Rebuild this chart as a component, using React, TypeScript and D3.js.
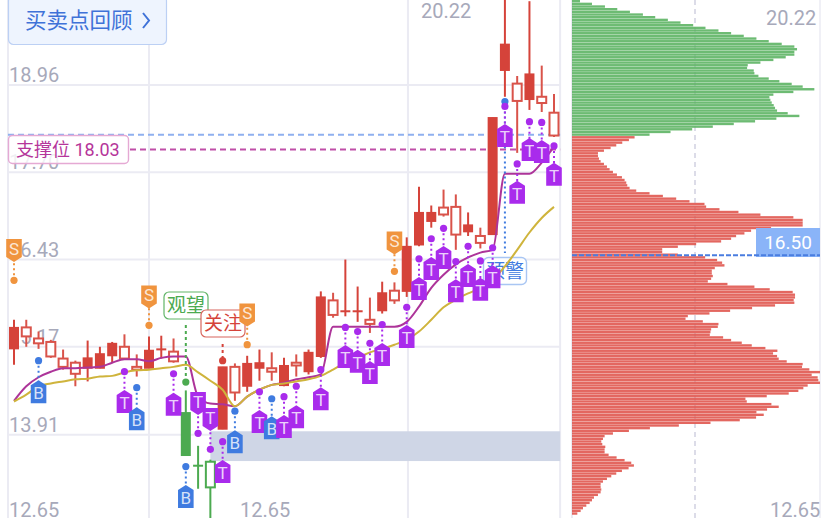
import React from "react";
import * as d3 from "d3";

const W = 828, H = 518;

const highs = [15.57,15.57,15.40,15.28,15.14,14.98,15.27,15.18,15.25,15.36,15.07,15.33,15.34,15.30,14.55,13.75,13.55,14.89,14.94,15.05,15.14,15.10,15.02,15.07,15.14,15.98,15.96,16.44,16.05,15.89,16.12,16.11,16.76,17.49,17.22,17.45,17.38,17.12,16.90,18.49,20.30,19.09,20.17,19.24,18.83];
const lows = [14.92,15.18,15.15,15.02,14.85,14.61,14.68,14.87,14.95,15.00,14.75,14.87,15.01,14.95,13.61,13.13,12.60,13.99,14.40,14.53,14.69,14.69,14.61,14.75,14.78,15.02,15.60,15.62,15.54,15.38,15.66,15.80,15.90,16.63,16.90,17.06,16.58,16.78,16.60,16.80,18.79,17.98,18.60,18.57,18.21];
const bodyTops = [15.46,15.46,15.30,15.25,15.01,14.95,15.02,15.08,15.23,15.18,14.89,15.13,15.15,15.11,14.23,13.47,13.52,14.89,14.89,14.94,14.95,14.87,14.91,14.95,15.10,15.90,15.85,15.70,15.70,15.57,15.96,15.99,16.63,17.12,17.12,17.19,17.20,16.94,16.78,18.49,19.55,18.98,19.12,18.79,18.56];
const bodyBottoms = [15.15,15.33,15.23,15.04,14.89,14.79,14.87,14.87,15.05,15.01,14.85,14.87,15.14,14.97,13.61,13.46,13.15,13.99,14.52,14.61,14.87,14.82,14.62,14.91,14.82,15.04,15.64,15.69,15.69,15.51,15.70,15.85,15.98,16.65,16.99,17.09,16.80,16.84,16.68,16.80,19.17,18.73,18.75,18.70,18.23];
const hollowIdx = [1,2,3,4,5,9,10,13,16,18,21,23,26,29,31,35,36,38,41,43,44];
const greenIdx = [14,15,16];

const purpleLine = [14.40,14.61,14.74,14.82,14.87,14.87,14.88,14.89,14.95,15.00,15.00,14.97,15.02,15.04,15.04,14.46,14.36,14.35,14.32,14.46,14.56,14.63,14.66,14.71,14.74,14.78,15.47,15.47,15.47,15.47,15.47,15.47,15.54,15.76,16.03,16.22,16.37,16.47,16.54,16.58,17.68,17.68,17.68,17.84,18.07];
const goldLine = [14.39,14.49,14.61,14.65,14.68,14.71,14.72,14.75,14.76,14.81,14.84,14.85,14.87,14.89,14.92,14.81,14.69,14.56,14.32,14.46,14.56,14.63,14.65,14.68,14.71,14.76,14.85,14.95,15.02,15.10,15.15,15.21,15.28,15.40,15.57,15.75,15.86,15.95,16.03,16.15,16.34,16.58,16.83,17.04,17.20];

// [kind, candle index, dot price, badge price]
const markers: [string, number, number, number][] = [
  ["S",0,16.14,16.57],["B",2,14.98,14.53],["T",9,14.82,14.39],["B",10,14.59,14.14],
  ["S",11,15.49,15.90],["T",13,14.79,14.35],["B",14,13.45,13.02],["D",15,13.93,14.36],
  ["D",16,13.70,14.13],["T",17,13.81,13.38],["B",18,14.25,13.81],["S",19,15.21,15.64],
  ["T",20,14.53,14.10],["B",21,14.43,14.01],["T",22,14.46,14.03],["T",23,14.61,14.17],
  ["T",25,14.85,14.43],["T",27,15.46,15.04],["T",28,15.40,14.97],["T",29,15.23,14.81],
  ["T",30,15.50,15.07],["S",31,16.27,16.68],["T",32,15.75,15.33],["T",33,16.45,16.02],
  ["T",34,16.74,16.31],["T",35,16.89,16.47],["T",36,16.41,15.99],["T",37,16.63,16.21],
  ["T",38,16.42,16.01],["T",39,16.61,16.19],["T",40,18.65,18.23],["T",41,17.82,17.41],
  ["T",42,18.43,18.03],["T",43,18.42,18.00],["T",44,18.08,17.67],
];

const leftTicks = [18.96, 17.70, 16.43, 15.17, 13.91];
const gridPrices = [18.96, 17.70, 16.44, 15.18, 13.91];
const gridXIdx = [-0.49, 11, 32.1, 44.5];

const supportPrice = 18.03;
const bluePrice = 18.24;
const lastPrice = 16.50;
const bandPrices = [13.96, 13.53];

const askVolume = [36,72,111,148,186,225,262,300,338,376,413,452,490,528,566,603,642,680,688,680,680,654,617,578,540,538,558,560,572,603,635,672,705,740,677,617,605,608,612,618,622,628,660,695,626,562,498,435,373,308,245];
const bidVolume = [200,183,163,145,128,108,90,90,93,98,108,117,125,135,147,162,170,175,178,185,205,245,285,325,365,410,415,455,512,578,677,705,705,705,610,550,530,505,490,460,385,330,283,283,330,412,
  448,463,470,441,432,432,435,430,420,479,560,606,675,682,682,678,680,622,553,487,425,360,353,405,452,450,430,428,426,466,490,522,552,593,629,616,628,633,657,705,703,725,757,732,750,752,757,720,
  707,692,663,597,533,537,611,633,598,566,588,565,516,428,333,246,183,135,110,105,100,103,112,110,110,122,146,170,190,198,182,162,145,130,117,105,98,98,100,98,90,78,72,65,55,45,38,28];

const C = {
  red: "#d5433a", redHollow: "#d9534a", green: "#4caa50", grid: "#ebebf3", axis: "#a7a9ba",
  purple: "#a92bec", blue: "#3f7be0", orange: "#f0943e", mline: "#ad3499", gold: "#cfb43c",
  pink: "#c04fa8",
};
const FONT = "Roboto, 'Noto Sans CJK SC', sans-serif";

const x = d3.scaleLinear().domain([0, 44]).range([14, 554]);
const y = d3.scaleLinear().domain([18.96, 12.65]).range([85, 522]);
const line = d3.line<number>().x((_, i) => x(i)).y((d) => y(d)).curve(d3.curveMonotoneX);

const allVol = [...askVolume, ...bidVolume];
const histY = d3.scaleBand<number>().domain(d3.range(allVol.length)).range([0, allVol.length * 2.667]).paddingInner(0.1);
const histX = d3.scaleLinear().domain([12, 757]).range([572, 820]);

function Badge({ kind, cx, cy, dy }: { kind: string; cx: number; cy: number; dy: number }) {
  const down = kind === "S" || kind === "D";
  const fill = kind === "S" ? C.orange : kind === "B" ? C.blue : C.purple;
  const w = 7.8, h = 11.5, tip = 5;
  const path = down
    ? `M${cx - w},${cy - h}H${cx + w}V${cy + h - tip}L${cx},${cy + h}L${cx - w},${cy + h - tip}Z`
    : `M${cx - w},${cy + h}H${cx + w}V${cy - h + tip}L${cx},${cy - h}L${cx - w},${cy - h + tip}Z`;
  const letter = kind === "D" ? "T" : kind;
  return (
    <g>
      <path d={path} fill={fill} />
      <text x={cx} y={cy + dy} textAnchor="middle" fontSize={17} fontFamily={FONT} fill="#fff" fillOpacity={0.8}>{letter}</text>
    </g>
  );
}

function Marker({ m }: { m: [string, number, number, number] }) {
  const [kind, idx, dotP, badgeP] = m;
  const cx = x(idx);
  const dotY = y(dotP), badgeY = y(badgeP);
  const col = kind === "S" ? C.orange : kind === "B" ? C.blue : C.purple;
  return (
    <g>
      <line x1={cx} x2={cx} y1={dotY} y2={badgeY} stroke={col} strokeWidth={2} strokeDasharray="2 3" />
      <circle cx={cx} cy={dotY} r={3.6} fill={col} />
      <Badge kind={kind} cx={cx} cy={badgeY} dy={kind === "S" || kind === "D" ? 4 : 7.5} />
    </g>
  );
}

function Candle({ i }: { i: number }) {
  const hollow = hollowIdx.includes(i);
  const green = greenIdx.includes(i);
  const col = green ? C.green : hollow ? C.redHollow : C.red;
  const cx = x(i);
  const top = y(bodyTops[i]), bot = y(bodyBottoms[i]);
  const w = 10;
  const wickTop = y(highs[i]), wickBot = y(lows[i]);
  return (
    <g>
      <line x1={cx} x2={cx} y1={wickTop} y2={wickBot} stroke={col} strokeWidth={2} />
      {hollow ? (
        <rect x={cx - w / 2 + 0.5} y={top} width={w - 1} height={bot - top} fill="#fff" stroke={col} strokeWidth={2} />
      ) : (
        <rect x={cx - w / 2} y={top - 0.5} width={w} height={Math.max(bot - top + 1, 2)} fill={col} />
      )}
    </g>
  );
}

export default function App() {
  const gridLeft = x(gridXIdx[0]);
  const gridRight = x(gridXIdx[3]);
  const axisText = { fontFamily: FONT, fontSize: 20, fill: C.axis };
  return (
    <svg width={W} height={H} viewBox={`0 0 ${W} ${H}`} style={{ position: "absolute", left: 0, top: 0, background: "#fff" }}>
      {/* grid */}
      {gridPrices.map((p) => (
        <line key={p} x1={gridLeft} x2={gridRight} y1={y(p)} y2={y(p)} stroke={C.grid} strokeWidth={2} />
      ))}
      {gridXIdx.map((g) => (
        <line key={g} x1={x(g)} x2={x(g)} y1={0} y2={H} stroke={C.grid} strokeWidth={2} />
      ))}
      {/* axis labels */}
      {leftTicks.map((t) => (
        <text key={t} x={9} y={y(t) - 3} {...axisText}>{t.toFixed(2)}</text>
      ))}
      <text x={9} y={517} {...axisText}>12.65</text>
      <text x={421} y={18} {...axisText}>20.22</text>
      <text x={240} y={517} {...axisText}>12.65</text>

      {/* shaded band */}
      <rect x={x(16)} width={gridRight - x(16)} y={y(bandPrices[0])} height={y(bandPrices[1]) - y(bandPrices[0])} fill="#cfd6e6" />

      {/* reference lines */}
      <line x1={gridLeft} x2={gridRight} y1={y(bluePrice)} y2={y(bluePrice)} stroke="#8fb0ef" strokeWidth={2} strokeDasharray="6 4" />
      <line x1={130} x2={gridRight} y1={y(supportPrice)} y2={y(supportPrice)} stroke={C.pink} strokeWidth={2} strokeDasharray="6 4" />
      <rect x={8.5} y={135.5} width={120} height={28} rx={4} fill="#fff" fillOpacity={0.82} stroke="#e5a9d4" strokeWidth={1.4} />
      <text x={16} y={156} fontFamily={FONT} fontSize={18} fill="#b5359a">支撑位 18.03</text>

      {/* 预警 label */}
      <rect x={483.5} y={257.5} width={43} height={27} rx={5} fill="#fff" fillOpacity={0.9} stroke="#a9c6f3" strokeWidth={1.4} />
      <text x={505} y={278} textAnchor="middle" fontFamily={FONT} fontSize={19} fill={C.blue}>预警</text>

      {/* candles */}
      {highs.map((_, i) => <Candle key={i} i={i} />)}

      {/* lines */}
      <path d={line(purpleLine) ?? ""} fill="none" stroke={C.mline} strokeWidth={2} />
      <path d={line(goldLine) ?? ""} fill="none" stroke={C.gold} strokeWidth={2} />

      {/* 观望 / 关注 */}
      <line x1={x(14)} x2={x(14)} y1={325} y2={y(14.67)} stroke={C.green} strokeWidth={2} strokeDasharray="3 3" />
      <circle cx={x(14)} cy={y(14.67)} r={3.6} fill={C.green} />
      <rect x={164} y={292} width={44} height={27} rx={5} fill="#fff" stroke="#62b568" strokeWidth={1.2} />
      <text x={186} y={312} textAnchor="middle" fontFamily={FONT} fontSize={19} fill={C.green}>观望</text>
      <line x1={x(17)} x2={x(17)} y1={344} y2={y(14.98)} stroke={C.red} strokeWidth={2} strokeDasharray="3 3" />
      <circle cx={x(17)} cy={y(14.98)} r={3.6} fill={C.red} />
      <rect x={201} y={310} width={44} height={27} rx={5} fill="#fff" stroke="#d8655c" strokeWidth={1.2} />
      <text x={223} y={330} textAnchor="middle" fontFamily={FONT} fontSize={19} fill={C.red}>关注</text>

      {/* blue alert dot + dotted drop */}
      <line x1={x(40)} x2={x(40)} y1={y(18.72)} y2={253} stroke={C.blue} strokeWidth={2} strokeDasharray="2 3" />
      <circle cx={x(40)} cy={y(18.72)} r={3.6} fill={C.blue} />

      {/* markers */}
      {markers.map((m, i) => <Marker key={i} m={m} />)}

      {/* profile panel */}
      <line x1={572} x2={572} y1={0} y2={H} stroke={C.grid} strokeWidth={2} />
      <line x1={820} x2={820} y1={0} y2={H} stroke={C.grid} strokeWidth={1.5} />
      <line x1={695} x2={695} y1={0} y2={H} stroke="#dcdce8" strokeWidth={2} strokeDasharray="5 4" />
      {allVol.map((v, i) => (
        <rect key={i} x={572} y={histY(i)} width={histX(v) - 572} height={histY.bandwidth()}
          fill={i < askVolume.length ? "#5db464" : "#e0574f"} fillOpacity={0.9} />
      ))}
      <text x={766} y={25} {...axisText}>20.22</text>
      <text x={770} y={517} {...axisText}>12.65</text>
      <rect x={756} y={228} width={64} height={29} fill="#8ab4f8" />
      <text x={788} y={249} textAnchor="middle" fontFamily={FONT} fontSize={19} fill="#fff">16.50</text>
      <line x1={572} x2={820} y1={y(lastPrice)} y2={y(lastPrice)} stroke="#4a7de0" strokeWidth={2} strokeDasharray="5 2" />

      {/* button */}
      <rect x={8.5} y={-4} width={158} height={48.5} rx={5} fill="#eef4fe" stroke="#bcd0f4" strokeWidth={1.2} />
      <text x={25} y={28} fontFamily={FONT} fontSize={21.5} fill="#3f72d8">买卖点回顾</text>
      <path d="M143,13L149,20.5L143,28" fill="none" stroke="#3f72d8" strokeWidth={2} />
    </svg>
  );
}
